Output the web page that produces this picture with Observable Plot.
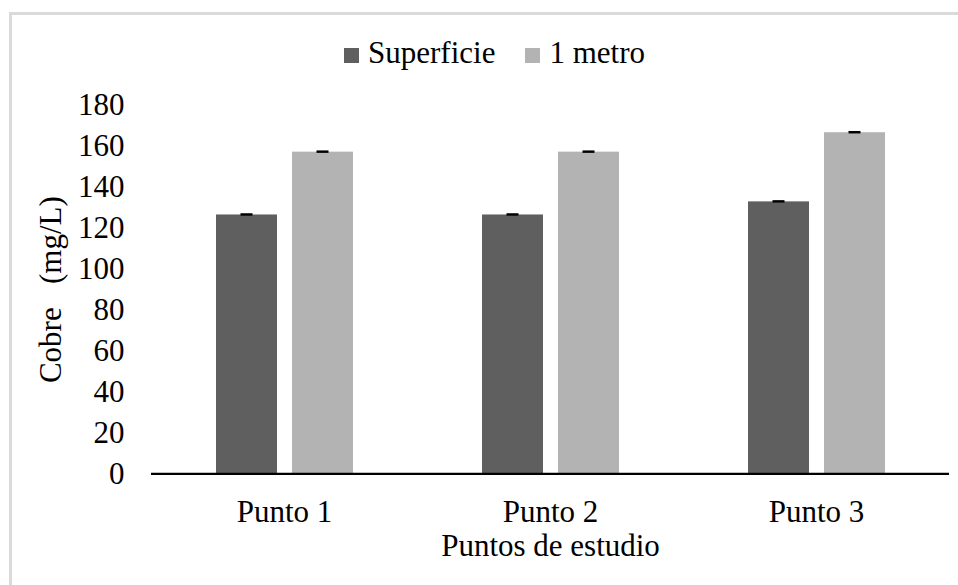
<!DOCTYPE html>
<html>
<head>
<meta charset="utf-8">
<script src="https://cdn.jsdelivr.net/npm/d3@7"></script>
<script src="https://cdn.jsdelivr.net/npm/@observablehq/plot@0.6"></script>
<style>
  html, body { margin: 0; padding: 0; background: #fff; }
  body { width: 958px; height: 585px; overflow: hidden; position: relative; font-family: "Liberation Serif", "Times New Roman", serif; }
  #frame { position: absolute; left: 9px; top: 12px; width: 1000px; height: 700px; border: 3px solid #dadada; box-sizing: border-box; }
  #legend { position: absolute; left: 344px; top: 38px; font-size: 31px; line-height: 30px; white-space: nowrap; color: #000; }
  #legend .item { display: inline-block; margin-right: 30px; }
  #legend .sw { display: inline-block; width: 15px; height: 15px; margin-right: 9px; vertical-align: baseline; }
  #chart { position: absolute; left: 0; top: 70px; }
</style>
</head>
<body>
<div id="frame"></div>
<div id="legend"></div>
<div id="chart"></div>
<script>
const puntos = ["Punto 1", "Punto 2", "Punto 3"];
const series = ["Superficie", "1 metro"];
const superficie = [126.5, 126.5, 132.9];
const unMetro = [157.2, 157.2, 166.7];
const errSuperficie = [0.6, 0.6, 0.6];
const errUnMetro = [0.6, 0.6, 0.6];
const colores = ["#5f5f5f", "#b3b3b3"];
const yTicks = [0, 20, 40, 60, 80, 100, 120, 140, 160, 180];
const yLabel = "Cobre\u00a0\u00a0 (mg/L)";
const xLabel = "Puntos de estudio";

const fontStack = "'Liberation Serif', 'Times New Roman', serif";

const data = [];
puntos.forEach((p, i) => {
  data.push({punto: p, serie: series[0], valor: superficie[i], err: errSuperficie[i]});
  data.push({punto: p, serie: series[1], valor: unMetro[i], err: errUnMetro[i]});
});

const chart = Plot.plot({
  width: 958,
  height: 515,
  marginTop: 35,
  marginBottom: 111.7,
  marginLeft: 150,
  marginRight: 9,
  style: {fontFamily: fontStack, fontSize: "31px", color: "#000", background: "transparent", overflow: "visible"},
  fx: {domain: puntos, padding: 0, axis: null, label: null},
  x: {domain: series, paddingInner: 0.2, paddingOuter: 0.85, axis: null},
  y: {domain: [0, 180], axis: null},
  color: {domain: series, range: colores},
  marks: [
    Plot.axisY({ticks: yTicks, tickSize: 0, tickPadding: 27, label: null}),
    Plot.axisFx({anchor: "bottom", tickSize: 0, tickPadding: 26, label: null}),
    Plot.barY(data, {fx: "punto", x: "serie", y: "valor", fill: "serie"}),
    Plot.ruleY([0], {stroke: "#000", strokeWidth: 2.2}),
    Plot.barY(data, {fx: "punto", x: "serie", y1: d => d.valor - d.err, y2: d => d.valor + d.err, fill: "#000", insetLeft: 24.5, insetRight: 24.5}),
    Plot.text([yLabel], {facet: "super", frameAnchor: "left", textAnchor: "middle", rotate: -90, dx: -100, fill: "#000"}),
    Plot.text([xLabel], {facet: "super", frameAnchor: "bottom", textAnchor: "middle", lineAnchor: "top", dy: 60, fill: "#000"})
  ]
});
document.getElementById("chart").appendChild(chart);

const color = chart.scale("color");
const legend = document.getElementById("legend");
color.domain.forEach((s, i) => {
  const item = document.createElement("span");
  item.className = "item";
  const sw = document.createElement("span");
  sw.className = "sw";
  sw.style.background = color.range[i];
  item.appendChild(sw);
  item.appendChild(document.createTextNode(s));
  legend.appendChild(item);
});
</script>
</body>
</html>
